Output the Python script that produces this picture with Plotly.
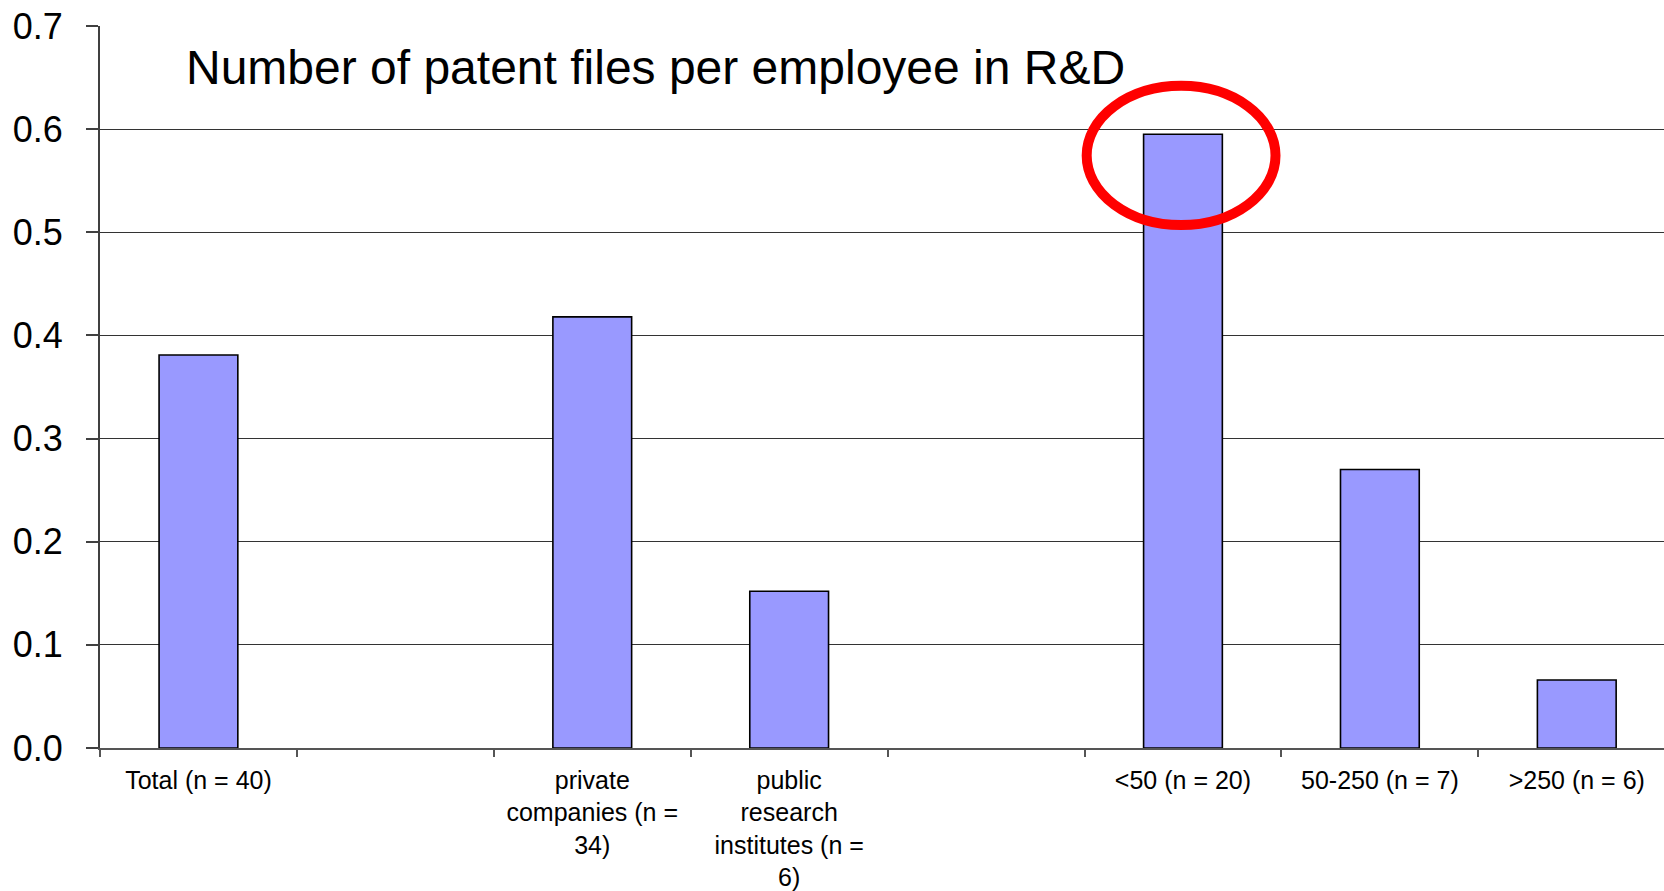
import plotly.graph_objects as go

# ---- data ----
categories = [
    "Total (n = 40)",
    " ",
    "private<br>companies (n =<br>34)",
    "public<br>research<br>institutes (n =<br>6)",
    "  ",
    "&lt;50 (n = 20)",
    "50-250 (n = 7)",
    "&gt;250 (n = 6)",
]
values = [0.381, None, 0.418, 0.152, None, 0.595, 0.270, 0.066]
y_ticks = [0.0, 0.1, 0.2, 0.3, 0.4, 0.5, 0.6, 0.7]
title_text = "Number of patent files per employee in R&amp;D"
highlight_index = 5

FONT = "Liberation Sans, Arial, sans-serif"

fig = go.Figure()
fig.add_trace(go.Bar(
    x=categories,
    y=values,
    marker=dict(color="#9999FF", line=dict(color="#000000", width=1.6)),
    hoverinfo="skip",
))

# highlight ellipse around the <50 bar top
hv = values[highlight_index]
fig.add_shape(
    type="circle", xref="x", yref="y",
    x0=highlight_index - 0.489, x1=highlight_index + 0.47,
    y0=hv - 0.088, y1=hv + 0.047,
    line=dict(color="#FF0000", width=10),
    fillcolor="rgba(0,0,0,0)",
    layer="above",
)

fig.add_annotation(
    text=title_text, xref="paper", yref="paper",
    x=0.0535, y=0.942, xanchor="left", yanchor="middle",
    showarrow=False, font=dict(family=FONT, size=48, color="#000000"),
)

fig.update_layout(
    width=1664, height=891,
    margin=dict(l=100, r=0, t=26, b=143),
    paper_bgcolor="white", plot_bgcolor="white",
    bargap=0.6, showlegend=False,
    font=dict(family=FONT, color="#000000"),
)
fig.update_xaxes(
    type="category",
    range=[-0.5, 7.443],
    tickson="boundaries",
    ticks="outside", ticklen=7, tickcolor="#555555", tickwidth=1.5,
    showline=True, linecolor="#555555", linewidth=1.5,
    showgrid=False, tickangle=0,
    automargin=False,
    ticklabelstandoff=9,
    tickfont=dict(family=FONT, size=25, color="#000000"),
)
fig.update_yaxes(
    range=[0, 0.70001],
    tickvals=y_ticks, tickformat=".1f",
    ticks="outside", ticklen=12, tickcolor="#404040", tickwidth=1.5,
    showline=True, linecolor="#404040", linewidth=2,
    showgrid=True, gridcolor="#333333", gridwidth=1,
    zeroline=False,
    automargin=False,
    ticklabeloverflow="allow",
    ticklabelstandoff=16,
    tickfont=dict(family=FONT, size=36, color="#000000"),
)

fig.write_html(
    "out.html",
    config={"displayModeBar": False},
    post_script="document.body.style.margin='0';document.body.style.overflow='hidden';",
)
